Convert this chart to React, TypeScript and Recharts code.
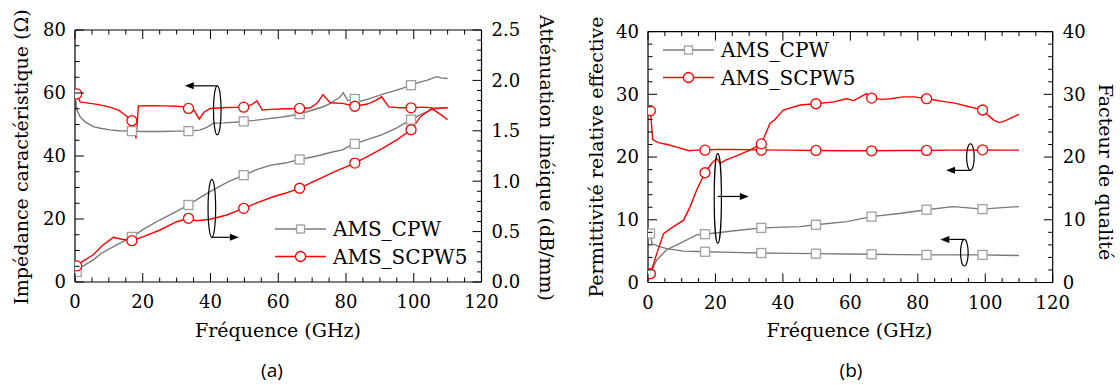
import React from 'react';
import { ComposedChart, Line, XAxis, YAxis, ReferenceDot, Legend } from 'recharts';

const SERIF = '"DejaVu Serif"';
const GRAY = '#7a7a7a';
const GRAY_MK = '#a0a0a0';
const RED = '#ff0000';

// ---------- Panel (a) ----------
const fA_impCPW = [0.2, 0.6, 1.5, 3, 5.4, 7.5, 10.3, 13, 16.8, 20, 25, 30, 33.5, 36.8, 38.9, 40.9, 44, 47, 49.8, 53, 56, 60, 63, 66.3, 69, 72.6, 75, 76.8, 78, 79.2, 80.5, 82.6, 84, 86.3, 88, 91.6, 94, 97, 99.2, 101, 104, 106.8, 108, 110];
const vA_impCPW = [57.7, 54.5, 52.5, 50.8, 49.3, 48.8, 48.3, 48.0, 47.9, 47.8, 47.8, 47.9, 47.9, 48.2, 49.1, 50.4, 50.5, 50.7, 51.0, 51.3, 51.7, 52.2, 52.7, 53.3, 54.2, 55.4, 56.5, 57.7, 58.5, 60.1, 57.6, 58.1, 57.3, 58.0, 58.6, 59.9, 60.6, 61.6, 62.5, 63.2, 64.1, 65.2, 64.8, 64.6];
const mfA_impCPW = [16.8, 33.5, 49.8, 66.3, 82.6, 99.2];
const mvA_impCPW = [47.9, 47.9, 51.0, 53.3, 58.1, 62.5];

const fA_impSC = [0.5, 1.5, 4, 7, 10.3, 13, 14.8, 16.8, 17.5, 18, 18.4, 18.7, 22, 26, 30, 33.5, 35, 36.7, 38, 39.9, 45, 49.8, 52, 53.7, 55.3, 58, 62, 66.3, 69.5, 71.5, 73.2, 75.3, 79, 82.6, 86.3, 88.5, 90.5, 92.6, 96, 99.2, 103, 106, 110];
const vA_impSC = [59.7, 57.2, 56.8, 56.3, 55.5, 54.5, 53.0, 51.2, 49.0, 45.6, 51.0, 55.9, 56.0, 55.9, 55.8, 55.5, 54.8, 51.7, 53.8, 55.1, 55.4, 55.5, 56.2, 57.5, 54.6, 54.8, 55.0, 55.1, 55.3, 56.8, 59.5, 56.9, 56.7, 55.8, 56.5, 57.5, 58.8, 55.6, 55.3, 55.3, 55.5, 55.2, 55.3];
const mfA_impSC = [0.5, 16.8, 33.5, 49.8, 66.3, 82.6, 99.2];
const mvA_impSC = [59.7, 51.2, 55.1, 55.5, 55.1, 55.8, 55.3];

const fA_attCPW = [0.5, 2, 5.4, 8, 10.3, 13, 15.3, 17, 20, 25, 30, 33.5, 37, 40, 45, 49.8, 54, 57.9, 62, 66.3, 70, 72.6, 76, 79, 80.5, 82.6, 86, 90.5, 95, 99.2, 102, 105.3, 107.4, 110];
const vA_attCPW = [0.10, 0.15, 0.22, 0.29, 0.33, 0.38, 0.42, 0.45, 0.52, 0.615, 0.70, 0.764, 0.84, 0.90, 0.99, 1.06, 1.12, 1.16, 1.18, 1.215, 1.24, 1.26, 1.29, 1.31, 1.34, 1.37, 1.41, 1.46, 1.53, 1.61, 1.66, 1.71, 1.72, 1.73];
const mfA_attCPW = [0.5, 16.8, 33.5, 49.8, 66.3, 82.6, 99.2];
const mvA_attCPW = [0.10, 0.447, 0.764, 1.06, 1.215, 1.37, 1.61];

const fA_attSC = [0.5, 2, 5.4, 8, 11.3, 13.8, 16.8, 20.2, 25.1, 30, 33.5, 35.9, 39.9, 44.8, 49.8, 54, 58.5, 62, 66.3, 70, 72.6, 77, 82.6, 86, 90.5, 95, 99.2, 102, 105.3, 108, 110];
const vA_attSC = [0.16, 0.20, 0.27, 0.36, 0.443, 0.424, 0.41, 0.45, 0.516, 0.598, 0.632, 0.608, 0.622, 0.665, 0.731, 0.79, 0.846, 0.88, 0.93, 0.99, 1.03, 1.10, 1.18, 1.24, 1.32, 1.41, 1.51, 1.64, 1.72, 1.66, 1.61];
const mfA_attSC = [0.5, 16.8, 33.5, 49.8, 66.3, 82.6, 99.2];
const mvA_attSC = [0.16, 0.41, 0.632, 0.731, 0.93, 1.18, 1.51];

// ---------- Panel (b) ----------
const fB_epsCPW = [0.6, 1.2, 3, 5.5, 10.5, 16.9, 25, 33.6, 42, 49.8, 58, 66.3, 75, 82.6, 90, 99.2, 105, 110];
const vB_epsCPW = [7.8, 6.2, 5.8, 5.4, 5.0, 4.9, 4.8, 4.7, 4.65, 4.6, 4.55, 4.5, 4.45, 4.4, 4.4, 4.4, 4.35, 4.3];
const mfB_epsCPW = [0.6, 16.9, 33.6, 49.8, 66.3, 82.6, 99.2];
const mvB_epsCPW = [7.8, 4.9, 4.7, 4.6, 4.5, 4.4, 4.4];

const fB_qCPW = [0.7, 2.6, 5.5, 10.5, 14.4, 16.9, 25, 33.6, 45, 49.8, 58.9, 66.3, 74.5, 82.6, 90.4, 95, 99.2, 104, 110];
const vB_qCPW = [1.4, 3.6, 5.2, 6.5, 7.6, 7.7, 8.2, 8.7, 8.9, 9.2, 9.7, 10.5, 11.0, 11.6, 12.1, 11.9, 11.7, 11.9, 12.1];
const mfB_qCPW = [16.9, 33.6, 49.8, 66.3, 82.6, 99.2];
const mvB_qCPW = [7.7, 8.7, 9.2, 10.5, 11.6, 11.7];

const fB_epsSC = [0.7, 1.4, 3, 5.8, 9, 12.2, 14, 16.9, 20, 25, 33.6, 40, 49.8, 60, 66.3, 75, 82.6, 90, 99.2, 105, 110];
const vB_epsSC = [27.4, 22.8, 22.3, 22.0, 21.5, 21.0, 21.1, 21.1, 21.2, 21.2, 21.15, 21.1, 21.05, 21.0, 21.0, 21.05, 21.05, 21.1, 21.15, 21.1, 21.1];
const mfB_epsSC = [0.7, 16.9, 33.6, 49.8, 66.3, 82.6, 99.2];
const mvB_epsSC = [27.4, 21.1, 21.1, 21.05, 21.0, 21.05, 21.15];

const fB_qSC = [0.7, 2.6, 4.6, 7.5, 10.5, 12.5, 14.4, 16.9, 18.9, 20.4, 21.4, 23, 25.3, 30.2, 33.6, 36.2, 37.5, 40.1, 45.1, 49.8, 55, 58.9, 61, 63, 64.8, 66.3, 69.3, 72, 75.6, 79, 82.6, 85, 88.3, 91, 94.6, 97, 99.2, 101, 102.5, 104.1, 106, 110];
const vB_qSC = [1.4, 4.6, 7.8, 8.9, 9.9, 12.1, 14.7, 17.5, 19.0, 19.8, 19.0, 19.5, 20.0, 21.1, 22.1, 25.4, 25.9, 27.5, 28.3, 28.5, 28.8, 29.3, 29.0, 29.6, 30.1, 29.4, 29.2, 29.3, 29.6, 29.6, 29.3, 29.1, 28.8, 28.6, 28.1, 27.8, 27.5, 26.6, 25.9, 25.5, 25.8, 26.8];
const mfB_qSC = [0.7, 16.9, 33.6, 49.8, 66.3, 82.6, 99.2];
const mvB_qSC = [1.4, 17.5, 22.1, 28.5, 29.4, 29.3, 27.5];

// ---------- ticks ----------
const xTicks = [0, 5, 10, 15, 20, 25, 30, 35, 40, 45, 50, 55, 60, 65, 70, 75, 80, 85, 90, 95, 100, 105, 110, 115, 120];
const xMajor = [0, 20, 40, 60, 80, 100, 120];
const yALTicks = [0, 5, 10, 15, 20, 25, 30, 35, 40, 45, 50, 55, 60, 65, 70, 75, 80];
const yALMajor = [0, 20, 40, 60, 80];
const yARTicks = [0, 0.1, 0.2, 0.3, 0.4, 0.5, 0.6, 0.7, 0.8, 0.9, 1.0, 1.1, 1.2, 1.3, 1.4, 1.5, 1.6, 1.7, 1.8, 1.9, 2.0, 2.1, 2.2, 2.3, 2.4, 2.5];
const yARMajor = [0, 0.5, 1.0, 1.5, 2.0, 2.5];
const yBTicks = [0, 2, 4, 6, 8, 10, 12, 14, 16, 18, 20, 22, 24, 26, 28, 30, 32, 34, 36, 38, 40];
const yBMajor = [0, 10, 20, 30, 40];

const zip = (f: number[], v: number[]) => f.map((x, i) => ({ f: x, v: v[i] }));

const textStyle = { fontFamily: SERIF, fontSize: 18 };
const titleStyle = { fontFamily: SERIF, fontSize: 19 };

function mkTick(side: string, majors: number[], fmt: ((v: number) => string) | null) {
  return (p: any) => {
    const v = p.payload.value;
    const major = majors.some((m) => Math.abs(m - v) < 1e-6);
    const x = p.x;
    const y = p.y;
    let x2 = x, y2 = y;
    const len = major ? 9 : 4.5;
    if (side === 'bottom') y2 = y - len;
    if (side === 'top') y2 = y + len;
    if (side === 'left') x2 = x + len;
    if (side === 'right') x2 = x - len;
    let label = null;
    if (major && fmt) {
      const t = fmt(v);
      if (side === 'bottom')
        label = <text x={x} y={y + 20} dy="0.35em" textAnchor="middle" style={textStyle} fill="#000">{t}</text>;
      if (side === 'left')
        label = <text x={x - 9} y={y} dy="0.35em" textAnchor="end" style={textStyle} fill="#000">{t}</text>;
      if (side === 'right')
        label = <text x={x + 10} y={y} dy="0.35em" textAnchor="start" style={textStyle} fill="#000">{t}</text>;
    }
    return (
      <g key={`${side}-${v}`}>
        <line x1={x} y1={y} x2={x2} y2={y2} stroke="#000" strokeWidth={1} />
        {label}
      </g>
    );
  };
}

const squareDot = (p: any) => (
  <rect key={`s-${p.index}`} x={p.cx - 4.5} y={p.cy - 4.5} width={9} height={9} fill="#fff" stroke={GRAY_MK} strokeWidth={1.3} />
);
const circleDot = (p: any) => (
  <circle key={`c-${p.index}`} cx={p.cx} cy={p.cy} r={5} fill="#fff" stroke={RED} strokeWidth={1.3} />
);

function annot(rx: number, ry: number, ady: number, alen: number) {
  return (p: any) => {
    const cx = p.cx, cy = p.cy;
    const ay = cy + ady;
    const dir = alen > 0 ? 1 : -1;
    const tipX = cx + alen;
    const baseX = tipX - dir * 9;
    return (
      <g>
        <ellipse cx={cx} cy={cy} rx={rx} ry={ry} fill="none" stroke="#000" strokeWidth={1.2} />
        <line x1={cx} y1={ay} x2={baseX} y2={ay} stroke="#000" strokeWidth={1.2} />
        <polygon points={`${tipX},${ay} ${baseX},${ay - 3.5} ${baseX},${ay + 3.5}`} fill="#000" />
      </g>
    );
  };
}

const legendText = { fontFamily: SERIF, fontSize: 20 };
const LegendBox = () => (
  <svg width={210} height={58} style={{ overflow: 'visible' }}>
    <line x1={5} y1={14} x2={56} y2={14} stroke={GRAY} strokeWidth={1.4} />
    <rect x={26.5} y={10} width={8} height={8} fill="#fff" stroke={GRAY_MK} strokeWidth={1.3} />
    <text x={63} y={14} dy="0.35em" style={legendText} fill="#000">AMS_CPW</text>
    <line x1={5} y1={41.5} x2={56} y2={41.5} stroke={RED} strokeWidth={1.4} />
    <circle cx={30.5} cy={41.5} r={5} fill="#fff" stroke={RED} strokeWidth={1.3} />
    <text x={63} y={41.5} dy="0.35em" style={legendText} fill="#000">AMS_SCPW5</text>
  </svg>
);

const axisLine = { stroke: '#000', strokeWidth: 1.2 };

function renderAxes(yL: number[], yLMajor: number[], yLDomain: number[], yR: number[], yRMajor: number[], yRDomain: number[], rFmt: (v: number) => string) {
  return [
    <XAxis key="xb" xAxisId="b" dataKey="f" type="number" domain={[0, 120]} ticks={xTicks} interval={0} orientation="bottom" height={1} tickSize={0} tickMargin={0} tickLine={false} axisLine={axisLine} tick={mkTick('bottom', xMajor, (v) => String(v))} allowDataOverflow />,
    <XAxis key="xt" xAxisId="t" dataKey="f" type="number" domain={[0, 120]} ticks={xTicks} interval={0} orientation="top" height={1} tickSize={0} tickMargin={0} tickLine={false} axisLine={axisLine} tick={mkTick('top', xMajor, null)} allowDataOverflow />,
    <YAxis key="yl" yAxisId="L" dataKey="v" type="number" domain={yLDomain} ticks={yL} interval={0} orientation="left" width={1} tickSize={0} tickMargin={0} tickLine={false} axisLine={axisLine} tick={mkTick('left', yLMajor, (v) => String(v))} allowDataOverflow />,
    <YAxis key="yr" yAxisId="R" dataKey="v" type="number" domain={yRDomain} ticks={yR} interval={0} orientation="right" width={1} tickSize={0} tickMargin={0} tickLine={false} axisLine={axisLine} tick={mkTick('right', yRMajor, rFmt)} allowDataOverflow />,
  ];
}

function line(key: string, data: any[], y: string, color: string) {
  return <Line key={key} data={data} xAxisId="b" yAxisId={y} dataKey="v" type="linear" stroke={color} strokeWidth={1.4} dot={false} activeDot={false} isAnimationActive={false} legendType="none" />;
}
function marks(key: string, data: any[], y: string, dot: any) {
  return <Line key={key} data={data} xAxisId="b" yAxisId={y} dataKey="v" type="linear" stroke="none" dot={dot} activeDot={false} isAnimationActive={false} legendType="none" />;
}

export default function App() {
  return (
    <div style={{ position: 'absolute', left: 0, top: 0, width: 1120, height: 385, background: '#fff' }}>
      <div style={{ position: 'absolute', left: 0, top: 0 }}>
        <ComposedChart width={560} height={340} margin={{ top: 29, right: 77.5, bottom: 57, left: 74 }}>
          {renderAxes(yALTicks, yALMajor, [0, 80], yARTicks, yARMajor, [0, 2.5], (v) => v.toFixed(1))}
          {line('a1', zip(fA_impCPW, vA_impCPW), 'L', GRAY)}
          {line('a2', zip(fA_attCPW, vA_attCPW), 'R', GRAY)}
          {line('a3', zip(fA_impSC, vA_impSC), 'L', RED)}
          {line('a4', zip(fA_attSC, vA_attSC), 'R', RED)}
          {marks('m1', zip(mfA_impCPW, mvA_impCPW), 'L', squareDot)}
          {marks('m2', zip(mfA_attCPW, mvA_attCPW), 'R', squareDot)}
          {marks('m3', zip(mfA_impSC, mvA_impSC), 'L', circleDot)}
          {marks('m4', zip(mfA_attSC, mvA_attSC), 'R', circleDot)}
          <ReferenceDot xAxisId="b" yAxisId="L" x={42.0} y={54.5} r={1} shape={annot(3.8, 24.5, -24.5, -32.5)} />
          <ReferenceDot xAxisId="b" yAxisId="L" x={40.4} y={23.4} r={1} shape={annot(3.8, 29, 29, 27)} />
          <Legend layout="vertical" align="center" verticalAlign="middle" wrapperStyle={{ left: 270, top: 215, width: 210, height: 58 }} content={() => <LegendBox />} />
        </ComposedChart>
      </div>
      <div style={{ position: 'absolute', left: 560, top: 0 }}>
        <ComposedChart width={560} height={340} margin={{ top: 30.6, right: 66.3, bottom: 56.5, left: 87 }}>
          {renderAxes(yBTicks, yBMajor, [0, 40], yBTicks, yBMajor, [0, 40], (v) => String(v))}
          {line('b1', zip(fB_epsCPW, vB_epsCPW), 'L', GRAY)}
          {line('b2', zip(fB_qCPW, vB_qCPW), 'R', GRAY)}
          {line('b3', zip(fB_epsSC, vB_epsSC), 'L', RED)}
          {line('b4', zip(fB_qSC, vB_qSC), 'R', RED)}
          {marks('n1', zip(mfB_epsCPW, mvB_epsCPW), 'L', squareDot)}
          {marks('n2', zip(mfB_qCPW, mvB_qCPW), 'R', squareDot)}
          {marks('n3', zip(mfB_epsSC, mvB_epsSC), 'L', circleDot)}
          {marks('n4', zip(mfB_qSC, mvB_qSC), 'R', circleDot)}
          <ReferenceDot xAxisId="b" yAxisId="L" x={20.7} y={13.4} r={1} shape={annot(3.6, 45, -2, 31)} />
          <ReferenceDot xAxisId="b" yAxisId="L" x={95.6} y={20.0} r={1} shape={annot(3.8, 13.3, 13.3, -24.4)} />
          <ReferenceDot xAxisId="b" yAxisId="L" x={93.8} y={4.75} r={1} shape={annot(3.8, 13.3, -13.3, -24)} />
          <Legend layout="vertical" align="center" verticalAlign="middle" wrapperStyle={{ left: 98, top: 36, width: 210, height: 58 }} content={() => <LegendBox />} />
        </ComposedChart>
      </div>
      <svg width={1120} height={385} style={{ position: 'absolute', left: 0, top: 0, pointerEvents: 'none' }}>
        <g style={titleStyle} fill="#000">
          <text x={21.5} y={157} transform="rotate(-90 21.5 157)" textAnchor="middle" dy="0.35em">Impédance caractéristique (Ω)</text>
          <text x={547} y={158} transform="rotate(90 547 158)" textAnchor="middle" dy="0.35em">Atténuation linéique (dB/mm)</text>
          <text x={278} y={330} textAnchor="middle" dy="0.35em">Fréquence (GHz)</text>
          <text x={596} y={157} transform="rotate(-90 596 157)" textAnchor="middle" dy="0.35em">Permittivité relative effective</text>
          <text x={1106} y={172} transform="rotate(90 1106 172)" textAnchor="middle" dy="0.35em">Facteur de qualité</text>
          <text x={849.5} y={330} textAnchor="middle" dy="0.35em">Fréquence (GHz)</text>
        </g>
        <g style={{ fontFamily: 'Open Sans, Liberation Sans, sans-serif', fontSize: 19 }} fill="#000">
          <text x={272} y={370} textAnchor="middle" dy="0.35em">(a)</text>
          <text x={851} y={370} textAnchor="middle" dy="0.35em">(b)</text>
        </g>
      </svg>
    </div>
  );
}
